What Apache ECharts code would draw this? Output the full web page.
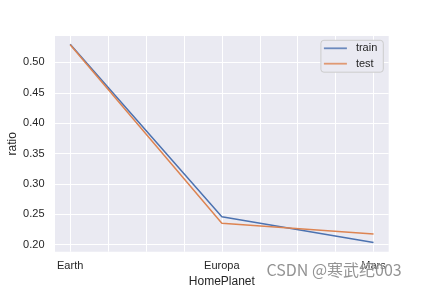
<!DOCTYPE html>
<html>
<head>
<meta charset="utf-8">
<script src="https://cdn.jsdelivr.net/npm/echarts@6/dist/echarts.min.js"></script>
<style>html,body{margin:0;padding:0;background:#fff}#c{width:432px;height:288px}</style>
</head>
<body>
<div id="c"></div>
<script>
const categories = ['Earth', 'Europa', 'Mars'];
const trainValues = [0.530, 0.246, 0.2035];
const testValues = [0.529, 0.2355, 0.2175];
const yTicks = [0.20, 0.25, 0.30, 0.35, 0.40, 0.45, 0.50];
const xGridLines = [0, 0.25, 0.5, 0.75, 1, 1.25, 1.5, 1.75, 2];
const xTickPositions = [0, 1, 2];

const txt = '#262626';
const font = 'Liberation Sans, Arial, sans-serif';
const chart = echarts.init(document.getElementById('c'), null, {renderer: 'canvas'});

chart.setOption({
  animation: false,
  backgroundColor: '#ffffff',
  grid: {left: 55, right: 43.3, top: 36, bottom: 36.3, show: true, backgroundColor: '#EAEAF2', borderWidth: 0,
         containLabel: false, outerBoundsMode: 'none'},
  legend: {
    data: ['train', 'test'],
    orient: 'vertical',
    right: 48.7, top: 40.3,
    icon: 'rect', itemWidth: 23, itemHeight: 1.8, itemGap: 2.4,
    padding: [1.5, 6, 2, 3],
    backgroundColor: '#EAEAF2', borderColor: '#cccccc', borderWidth: 1, borderRadius: 3,
    itemStyle: {opacity: 0.8},
    textStyle: {color: txt, fontSize: 11, fontFamily: font, lineHeight: 13, padding: [0, 0, 0, 4]}
  },
  xAxis: {
    type: 'value', min: -0.1, max: 2.1,
    name: 'HomePlanet', nameLocation: 'middle', nameGap: 24, nameMoveOverlap: false,
    nameTextStyle: {color: txt, fontSize: 12, fontFamily: font},
    axisLine: {show: false}, axisTick: {show: false}, splitLine: {show: false}, minorTick: {show: false},
    axisLabel: {
      customValues: xTickPositions, margin: 9, color: txt, fontSize: 11, fontFamily: font,
      formatter: v => categories[Math.round(v)]
    }
  },
  yAxis: {
    type: 'value', min: 0.1885, max: 0.5435,
    name: 'ratio', nameLocation: 'middle', nameGap: 36, nameMoveOverlap: false,
    nameTextStyle: {color: txt, fontSize: 12, fontFamily: font},
    axisLine: {show: false}, axisTick: {show: false}, splitLine: {show: false},
    axisLabel: {
      customValues: yTicks, margin: 10.5, color: txt, fontSize: 11, fontFamily: font,
      formatter: v => v.toFixed(2)
    }
  },
  series: [
    {
      name: 'gridlines', type: 'line', data: [], z: 1, silent: true,
      markLine: {
        z: 1, silent: true, symbol: 'none', animation: false,
        label: {show: false}, emphasis: {disabled: true},
        lineStyle: {color: '#ffffff', width: 1, type: 'solid'},
        data: xGridLines.map(v => ({xAxis: v})).concat(yTicks.map(v => ({yAxis: v})))
      }
    },
    {
      name: 'train', type: 'line', z: 3, showSymbol: false, symbol: 'none',
      color: '#4C72B0', lineStyle: {width: 1.5, color: '#4C72B0'},
      data: trainValues.map((v, i) => [i, v])
    },
    {
      name: 'test', type: 'line', z: 3, showSymbol: false, symbol: 'none',
      color: '#DD8452', lineStyle: {width: 1.5, color: '#DD8452'},
      data: testValues.map((v, i) => [i, v])
    }
  ],
  graphic: [{
    type: 'text', left: 266, top: 261, z: 100,
    style: {
      text: 'CSDN @寒武纪003', fontSize: 16, fontFamily: 'Noto Sans CJK SC, sans-serif',
      fill: 'rgba(120,120,120,0.8)', stroke: 'rgba(255,255,255,0.6)', lineWidth: 1
    }
  }]
});
</script>
</body>
</html>
